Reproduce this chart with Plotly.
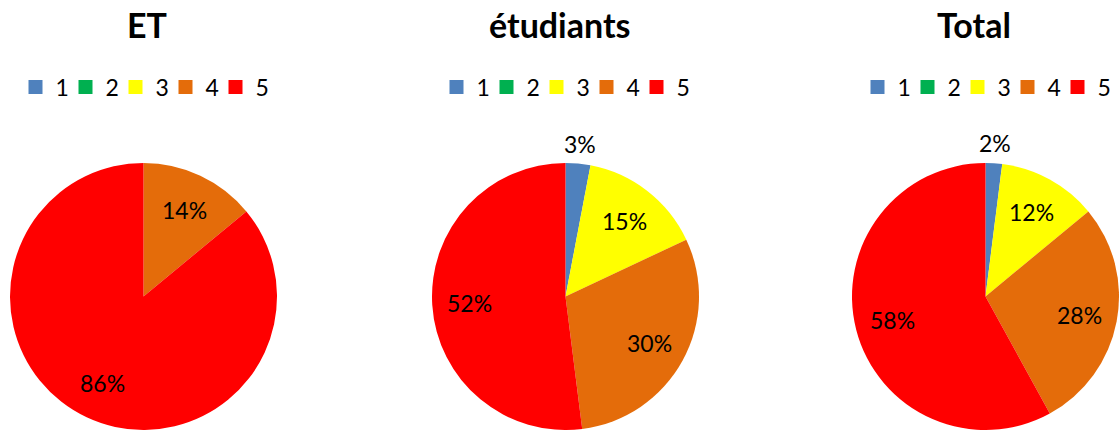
import math
import plotly.graph_objects as go

# Rating categories and share (%) of answers per group
categories = ["1", "2", "3", "4", "5"]
et_values = [0, 0, 0, 14, 86]
etudiants_values = [3, 0, 15, 30, 52]
total_values = [2, 0, 12, 28, 58]

groups = ["ET", "étudiants", "Total"]
colors = ["#4F81BD", "#00B050", "#FFFF00", "#E46C0A", "#FF0000"]

W, H = 1119, 430
FONT = "Lato"

pie_boxes = [(10, 277), (432, 699), (852, 1119)]   # horizontal pixel extents of each pie
pie_top, pie_bottom = 163, 430
title_x = [147, 560, 974]
legend_x = [146, 567, 988]

series = [et_values, etudiants_values, total_values]
legend_ids = ["legend", "legend2", "legend3"]

fig = go.Figure()
layout_axes = {}
annotations = []

for i, vals in enumerate(series):
    x0, x1 = pie_boxes[i]
    dom_x = [x0 / W, x1 / W]
    dom_y = [1 - pie_bottom / H, 1 - pie_top / H]

    fig.add_trace(go.Pie(
        labels=categories,
        values=vals,
        textinfo="none",
        sort=False,
        direction="clockwise",
        rotation=0,
        marker=dict(colors=colors, line=dict(width=0)),
        domain=dict(x=dom_x, y=dom_y),
        showlegend=False,
        hoverinfo="label+percent",
    ))

    # hidden cartesian frame: unit circle = pie edge, extended upward
    # so that labels placed outside the pie stay inside the axis range
    ax = "" if i == 0 else str(i + 1)
    pie_h = dom_y[1] - dom_y[0]
    y_top = -1 + 2 * (1 - dom_y[0]) / pie_h
    layout_axes[f"xaxis{ax}"] = dict(domain=dom_x, range=[-1, 1], visible=False,
                                     fixedrange=True, anchor=f"y{ax}")
    layout_axes[f"yaxis{ax}"] = dict(domain=[dom_y[0], 1], range=[-1, y_top], visible=False,
                                     fixedrange=True, anchor=f"x{ax}")

    # percentage labels on the slice bisectors
    total = sum(vals)
    cum = 0.0
    for v in vals:
        if v > 0:
            mid = (cum + v / 2) / total * 2 * math.pi
            k = 1.15 if v < 5 else 0.72
            annotations.append(dict(
                text=f"{v}%",
                x=k * math.sin(mid), y=k * math.cos(mid),
                xref=f"x{ax}", yref=f"y{ax}",
                xanchor="center", yanchor="middle",
                showarrow=False,
                font=dict(family=FONT, size=23, color="#000000"),
            ))
        cum += v

    # legend entries for the five categories
    for j, (cat, col) in enumerate(zip(categories, colors)):
        fig.add_trace(go.Scatter(
            x=[None], y=[None], mode="markers", name=cat,
            marker=dict(symbol="square", size=14, color=col),
            xaxis=f"x{ax}", yaxis=f"y{ax}",
            legend=legend_ids[i], showlegend=True,
            legendwidth=16 if j == len(categories) - 1 else None,
        ))

legend_style = dict(
    orientation="h",
    xanchor="center",
    yanchor="middle",
    y=1 - 87 / H,
    font=dict(family=FONT, size=23, color="#000000"),
    bgcolor="rgba(0,0,0,0)",
    borderwidth=0,
    itemwidth=30,
    traceorder="normal",
    entrywidth=5,
    entrywidthmode="pixels",
)

for i, g in enumerate(groups):
    annotations.append(dict(
        text=f"<b>{g}</b>",
        x=title_x[i] / W, y=1 - 25 / H,
        xref="paper", yref="paper",
        xanchor="center", yanchor="middle",
        showarrow=False,
        font=dict(family=FONT, size=34, color="#000000"),
    ))

fig.update_layout(
    width=W, height=H,
    margin=dict(l=0, r=0, t=0, b=0, autoexpand=False),
    paper_bgcolor="#FFFFFF",
    plot_bgcolor="rgba(0,0,0,0)",
    annotations=annotations,
    legend=dict(x=legend_x[0] / W, **legend_style),
    legend2=dict(x=legend_x[1] / W, **legend_style),
    legend3=dict(x=legend_x[2] / W, **legend_style),
    **layout_axes,
)

fig.write_html("out.html")
